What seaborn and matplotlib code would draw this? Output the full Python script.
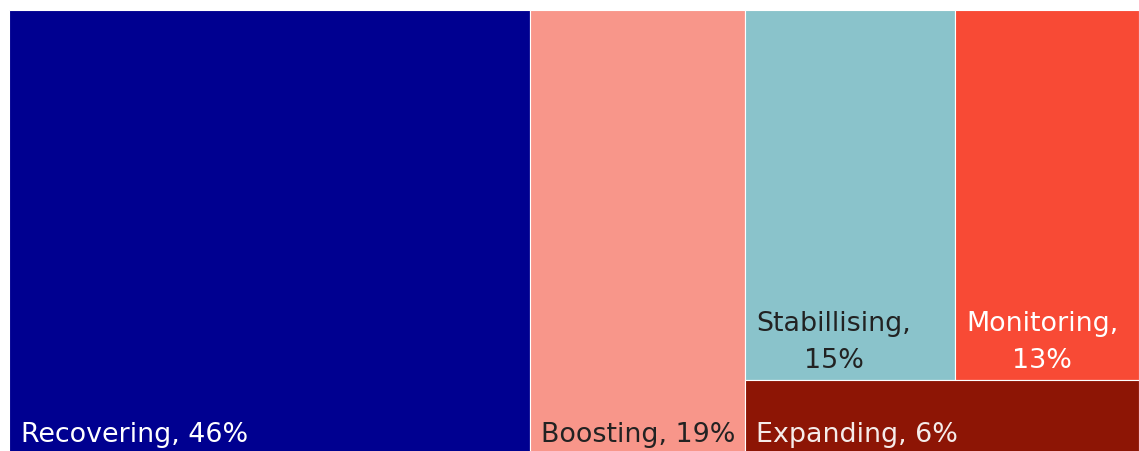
import matplotlib
matplotlib.use("Agg")
import matplotlib.pyplot as plt
import seaborn as sns

# ---- data ----
categories = ["Recovering", "Boosting", "Stabillising", "Monitoring", "Expanding"]
shares = [46.1, 19.0, 15.5, 13.6, 5.8]          # area shares
pct_labels = ["46%", "19%", "15%", "13%", "6%"]
colors = ["#000090", "#F8968A", "#8AC3CB", "#F84A35", "#8D1505"]
text_colors = ["#FFFFFF", "#222222", "#222222", "#FFFFFF", "#F5ECEA"]

sns.set_theme(style="white")
plt.rcParams['font.family'] = ['DejaVu Sans']

W, H = 1139, 452
fig = plt.figure(figsize=(W / 100, H / 100), dpi=100)
ax = fig.add_axes([9 / W, -3 / H, 1130 / W, 444 / H])
total = sum(shares)
ax.set_xlim(0, total)
ax.set_ylim(0, 1)
ax.axis("off")

# ---- treemap layout: first two items are full-height columns,
# the remaining items share the last column (top row: 2 items, bottom row: 1 item)
rects = []
x = 0.0
for i in range(2):
    rects.append((x, 0.0, shares[i], 1.0))
    x += shares[i]
col_w = total - x
bottom_items = [4]
top_items = [2, 3]
bottom_h = sum(shares[i] for i in bottom_items) / col_w
top_sum = sum(shares[i] for i in top_items)
layout = {0: rects[0], 1: rects[1]}
xx = x
for i in top_items:
    w = col_w * shares[i] / top_sum
    layout[i] = (xx, bottom_h, w, 1.0 - bottom_h)
    xx += w
layout[4] = (x, 0.0, col_w, bottom_h)

for i in range(len(categories)):
    l, b, w, h = layout[i]
    ax.bar(l, h, width=w, bottom=b, align="edge", color=colors[i],
           edgecolor="white", linewidth=0.8)

fig.canvas.draw()
renderer = fig.canvas.get_renderer()
for i in range(len(categories)):
    l, b, w, h = layout[i]
    t = ax.annotate(f"{categories[i]}, {pct_labels[i]}", xy=(l, b),
                    xytext=(8.3, 9.4), textcoords="offset points",
                    ha="left", va="baseline", fontsize=19.4,
                    color=text_colors[i], multialignment="center",
                    linespacing=1.55)
    bb = t.get_window_extent(renderer)
    p0 = ax.transData.transform((l, b))
    p1 = ax.transData.transform((l + w, b))
    if bb.width > (p1[0] - p0[0]) - 20:
        t.set_text(f"{categories[i]},\n{pct_labels[i]}")

fig.savefig("out.png", dpi=100, facecolor="white")
